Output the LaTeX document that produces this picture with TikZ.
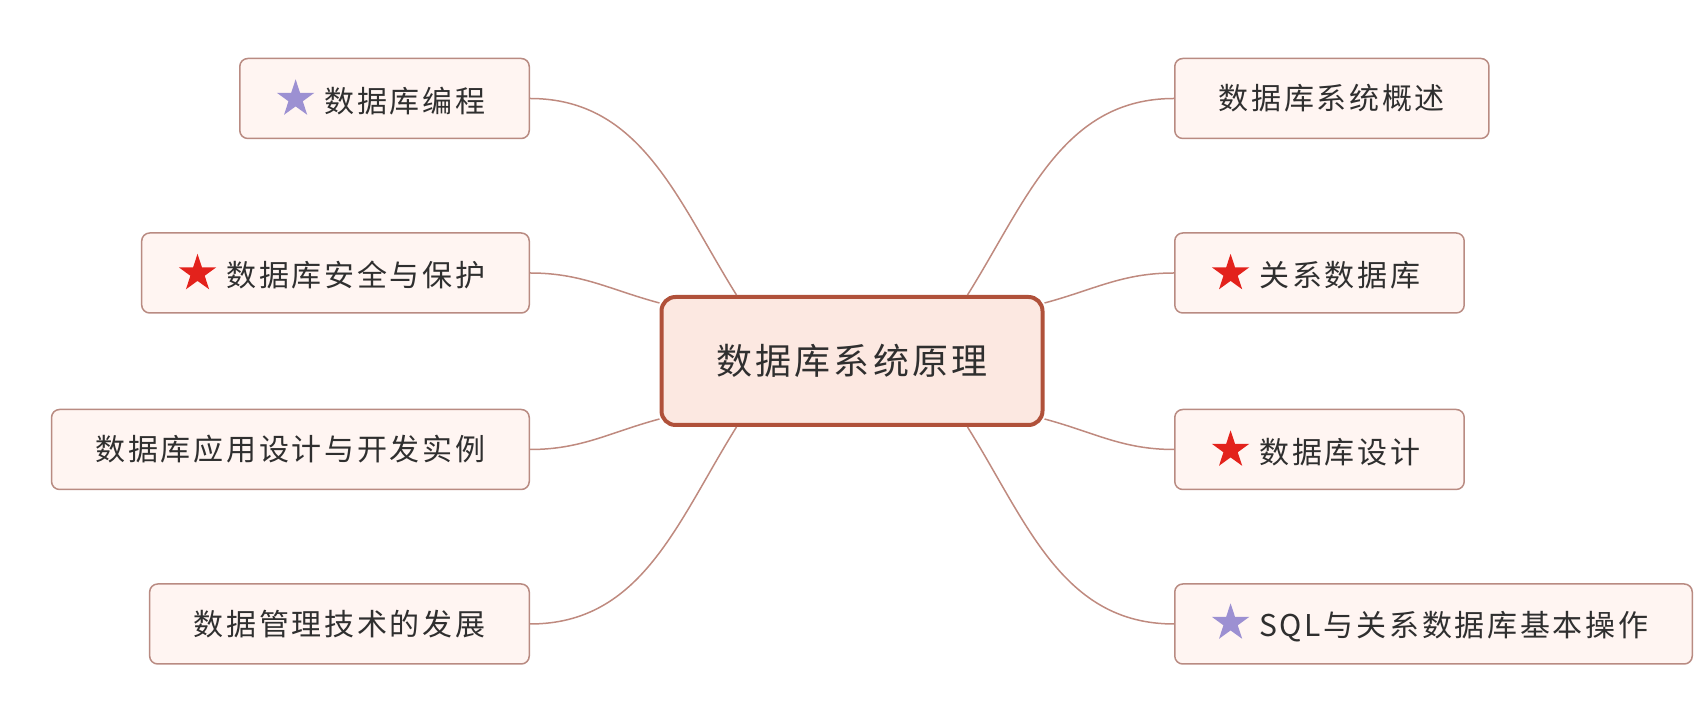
\documentclass[tikz,border=0pt]{standalone}
\usepackage{fontspec}
\usetikzlibrary{calc}
\newfontfamily\cjk[LetterSpace=9]{Noto Sans CJK SC}
\newfontfamily\bigcjk[LetterSpace=9]{Noto Sans CJK SC}
\newfontfamily\starfont[RawFeature={embolden=4}]{DejaVu Sans}
\definecolor{rootline}{HTML}{B0513A}
\definecolor{rootfill}{HTML}{FCE8E1}
\definecolor{topicline}{HTML}{B98B82}
\definecolor{topicfill}{HTML}{FFF5F2}
\definecolor{branchcol}{HTML}{BF8A7F}
\definecolor{starred}{HTML}{E3221C}
\definecolor{starpurple}{HTML}{9C90D2}
\definecolor{textgrey}{HTML}{2F2F2F}

\tikzstyle{root}=[draw=rootline,fill=rootfill,line width=4pt,rounded corners=14pt,minimum width=381pt,minimum height=128pt,font=\bigcjk\fontsize{36}{40}\selectfont,text=textgrey]
\tikzstyle{topic}=[draw=topicline,fill=topicfill,line width=1.5pt,rounded corners=8pt,minimum height=80pt,inner xsep=44pt,font=\cjk\fontsize{30}{34}\selectfont,text=textgrey]
\tikzstyle{branch}=[draw=branchcol,line width=1.5pt]
\newcommand{\redstar}{\hspace{-7pt}{\starfont\fontsize{42}{42}\selectfont\textcolor{starred}{★}}\hspace{10pt}}
\newcommand{\purplestar}{\hspace{-7pt}{\starfont\fontsize{42}{42}\selectfont\textcolor{starpurple}{★}}\hspace{10pt}}

\begin{document}
\begin{tikzpicture}[x=1pt,y=1pt]
    \useasboundingbox (0,0) rectangle (1703,711);
    % First the central topic
    \node[root] (db) at (852,350) {数据库系统原理};
    % Topics on the left, hung on their right side
    \foreach \pos/\name/\txt in {{(530,612.5)/prog/\purplestar 数据库编程}, {(530,438)/sec/\redstar 数据库安全与保护},
                                 {(530,261.5)/app/数据库应用设计与开发实例}, {(530,87)/hist/数据管理技术的发展}}
        \node[topic,anchor=east] (\name) at \pos {\txt};
    % Topics on the right, hung on their left side
    \foreach \pos/\name/\txt in {{(1174,612.5)/sys/数据库系统概述}, {(1174,438)/rel/\redstar 关系数据库},
                                 {(1174,261.5)/design/\redstar 数据库设计}, {(1174,87)/sql/\purplestar SQL与关系数据库基本操作}}
        \node[topic,anchor=west] (\name) at \pos {\txt};
    % Where the branches leave the central topic
    \coordinate (lt) at ($(db.north west)!0.2!(db.north east)$);
    \coordinate (rt) at ($(db.north west)!0.8!(db.north east)$);
    \coordinate (lb) at ($(db.south west)!0.2!(db.south east)$);
    \coordinate (rb) at ($(db.south west)!0.8!(db.south east)$);
    \coordinate (lu) at ($(db.west)+(0,58)$);
    \coordinate (ld) at ($(db.west)+(0,-58)$);
    \coordinate (ru) at ($(db.east)+(0,58)$);
    \coordinate (rd) at ($(db.east)+(0,-58)$);
    % Connect the central topic with the others
    \foreach \source/\dest/\o/\i in {lt/prog/122/0, lu/sec/165/0, ld/app/195/0, lb/hist/238/0}
        \path[branch] (\source) to[out=\o,in=\i] (\dest.east);
    \foreach \source/\dest/\o/\i in {rt/sys/58/180, ru/rel/15/180, rd/design/-15/180, rb/sql/-58/180}
        \path[branch] (\source) to[out=\o,in=\i] (\dest.west);
\end{tikzpicture}
\end{document}
